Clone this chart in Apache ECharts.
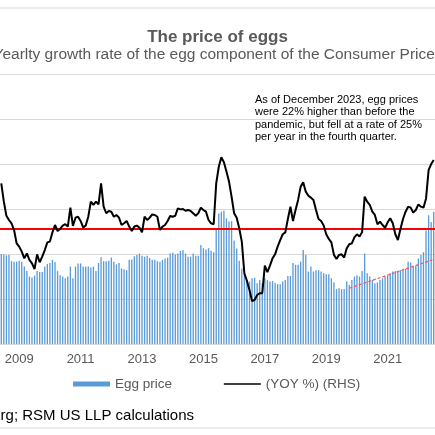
<!DOCTYPE html>
<html><head><meta charset="utf-8">
<script src="https://cdn.jsdelivr.net/npm/echarts@6/dist/echarts.min.js"></script>
<style>html,body{margin:0;padding:0;background:#fff}#c{width:435px;height:435px}</style>
</head><body><div id="c"></div>
<script>
// Monthly data, first visible month = June 2008
const startYear = 2008, startMonth = 6;
const eggPrice = [
  2.00, 1.99, 1.97, 1.98, 1.84, 1.83, 1.83,
  1.85, 1.82, 1.72, 1.62, 1.50, 1.48, 1.52, 1.62, 1.60, 1.60, 1.72, 1.78,
  1.80, 1.87, 1.82, 1.62, 1.53, 1.50, 1.46, 1.50, 1.72, 1.46, 1.72, 1.79,
  1.79, 1.72, 1.72, 1.72, 1.70, 1.72, 1.62, 1.80, 1.93, 1.84, 1.84, 1.85,
  1.92, 1.83, 1.77, 1.80, 1.68, 1.66, 1.64, 1.87, 1.88, 1.95, 1.98, 2.01,
  1.96, 1.94, 1.96, 1.91, 1.87, 1.87, 1.84, 1.83, 1.87, 1.90, 1.92, 2.01,
  2.03, 1.99, 2.01, 2.07, 2.09, 2.01, 1.94, 1.94, 2.01, 1.96, 1.96, 2.20,
  2.13, 2.10, 2.13, 2.07, 2.04, 2.57, 2.90, 2.94, 2.96, 2.79, 2.72, 2.73,
  2.30, 2.12, 1.85, 1.68, 1.57, 1.42, 1.39, 1.46, 1.47, 1.35, 1.42, 1.35,
  1.46, 1.42, 1.39, 1.40, 1.36, 1.33, 1.33, 1.39, 1.42, 1.51, 1.51, 1.80,
  1.76, 1.76, 1.83, 2.09, 1.98, 1.61, 1.72, 1.61, 1.64, 1.64, 1.61, 1.57,
  1.55, 1.55, 1.46, 1.37, 1.22, 1.24, 1.22, 1.22, 1.39, 1.31, 1.42, 1.50,
  1.53, 1.50, 1.62, 2.01, 1.57, 1.50, 1.42, 1.35, 1.37, 1.42, 1.46, 1.50,
  1.52, 1.57, 1.61, 1.62, 1.62, 1.64, 1.67, 1.67, 1.83, 1.81, 1.74, 1.74,
  1.90, 1.98, 2.04, 2.52, 2.86, 2.71, 2.94
];
const yoy = [
  23.3, 13.8, 6.5, 4.3, 2.6, -0.9, -7.8,
  -9.5, -12.1, -15.6, -13.0, -16.4, -18.2, -21.1, -13.5, -17.6, -14.7, -11.3, -7.3,
  -6.9, -2.1, 1.7, -1.4, -0.3, 1.4, 2.1, 0.9, 10.7, 1.2, 5.5, 6.0,
  3.8, 0.5, 1.4, 6.0, 13.8, 12.1, 13.8, 12.4, 23.3, 11.2, 7.8, 9.0,
  8.6, 6.0, 6.9, 5.5, 1.7, 2.6, 3.8, 0.9, -1.4, 0.9, 1.4, 0.3,
  -2.1, 6.0, 4.3, 5.5, 7.2, 6.9, 6.0, -0.9, 0.9, 1.7, 3.8, 6.4,
  6.0, 6.5, 10.3, 9.8, 10.0, 9.1, 9.5, 9.0, 7.8, 6.5, 7.8, 10.7,
  9.5, 8.6, 4.3, 2.6, 2.1, 23.3, 31.9, 36.8, 34.2, 29.4, 24.2, 16.4,
  7.8, 5.5, 0.0, -6.9, -23.3, -27.3, -32.0, -37.7, -37.2, -34.6, -33.7, -33.7,
  -19.4, -22.8, -19.4, -15.6, -13.5, -9.5, -6.1, -3.1, -2.1, 4.8, 11.2, 3.8,
  9.5, 14.7, 21.6, 23.8, 19.0, 16.9, 15.9, 14.7, 9.5, 4.8, 3.8, 1.4,
  -3.1, -5.5, -7.3, -13.8, -15.9, -13.8, -13.5, -15.2, -10.4, -8.3, -7.8, -4.7,
  -3.1, -4.3, -2.1, 16.4, 13.8, 12.1, 8.6, 6.9, 2.1, 3.4, 1.7, 0.3,
  3.1, 5.2, 2.6, -3.1, -6.1, -0.4, 4.8, 8.6, 11.2, 10.7, 8.1, 9.5,
  12.4, 11.2, 10.7, 15.5, 30.2, 33.3, 35.4
];
const tickYears = ['2009', '2011', '2013', '2015', '2017', '2019', '2021'];
const trendStart = ['2019-10', 1.24];
const trendEnd = ['2022-07', 1.88];
const zeroLine = 0;

const months = eggPrice.map((_, i) => {
  const t = startMonth - 1 + i;
  const y = startYear + Math.floor(t / 12);
  const m = (t % 12) + 1;
  return y + '-' + String(m).padStart(2, '0');
});

const FONT = "'Liberation Sans', Arial, sans-serif";
const chart = echarts.init(document.getElementById('c'));
chart.setOption({
  animation: false,
  backgroundColor: '#fff',
  title: [
    { text: 'The price of eggs', left: 'center', top: 24,
      textStyle: { fontFamily: FONT, fontSize: 17, fontWeight: 'bold', color: '#595959' } },
    { text: 'Yearlty growth rate of the egg component of the Consumer Price Index', left: -11.5, top: 42,
      textStyle: { fontFamily: FONT, fontSize: 15.5, fontWeight: 'normal', color: '#595959' } },
    { text: 'Source: Bloomberg; RSM US LLP calculations', right: 236, top: 403,
      textStyle: { fontFamily: FONT, fontSize: 15, fontWeight: 'normal', color: '#000' } }
  ],
  graphic: [
    { type: 'rect', shape: { x: -5, y: 8, width: 445, height: 420 }, z: -1,
      style: { fill: 'none', stroke: '#D9D9D9', lineWidth: 1 } },
    { type: 'text', x: 255, y: 94, z: 10,
      style: { text: 'As of December 2023, egg prices\nwere 22% higher than before the\npandemic, but fell at a rate of 25%\nper year in the fourth quarter.',
        font: '11px ' + FONT, fill: '#000', lineHeight: 12.2 } }
  ],
  legend: {
    left: 68, top: 372, itemGap: 51, itemWidth: 37, itemHeight: 5,
    textStyle: { fontFamily: FONT, fontSize: 13.5, color: '#595959' },
    data: [
      { name: 'Egg price', icon: 'rect' },
      { name: '(YOY %) (RHS)',
        itemStyle: { color: 'rgba(0,0,0,0)', borderColor: 'rgba(0,0,0,0)', borderWidth: 0 },
        lineStyle: { color: '#000', width: 1.6 } }
    ]
  },
  grid: { left: -1.91, right: -2.97, top: 74, bottom: 91, containLabel: false },
  xAxis: {
    type: 'category', data: months, boundaryGap: true,
    axisLine: { lineStyle: { color: '#D9D9D9' } },
    axisTick: { show: false },
    axisLabel: {
      interval: (i, v) => v.endsWith('-01') && tickYears.includes(v.slice(0, 4)),
      formatter: v => v.slice(0, 4),
      fontFamily: FONT, fontSize: 13, color: '#595959', margin: 9
    }
  },
  yAxis: [
    { type: 'value', min: 0, max: 6, interval: 1,
      axisLabel: { show: false }, axisLine: { show: false }, axisTick: { show: false },
      splitLine: { lineStyle: { color: '#D9D9D9', width: 1 } } },
    { type: 'value', min: -60, max: 80, interval: 20,
      axisLabel: { show: false }, axisLine: { show: false }, axisTick: { show: false },
      splitLine: { show: false } }
  ],
  series: [
    { name: 'Egg price', type: 'bar', data: eggPrice, yAxisIndex: 0, barWidth: '52%',
      itemStyle: { color: '#5B9BD5' }, z: 2,
      markLine: { silent: true, symbol: 'none', label: { show: false },
        lineStyle: { color: '#FF5050', width: 1.2, type: [3, 2] },
        data: [[ { coord: trendStart }, { coord: trendEnd } ]] } },
    { name: '(YOY %) (RHS)', type: 'line', data: yoy, yAxisIndex: 1, symbol: 'none',
      lineStyle: { color: '#000', width: 2 }, itemStyle: { color: '#000' }, z: 4,
      markLine: { silent: true, symbol: 'none', label: { show: false }, z: 3,
        lineStyle: { color: '#FF0000', width: 2, type: 'solid' },
        data: [ { yAxis: zeroLine } ] } }
  ]
});
</script></body></html>
